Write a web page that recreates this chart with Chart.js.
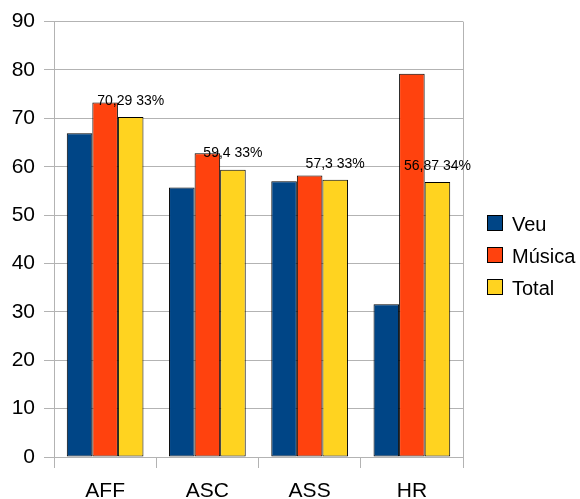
<!DOCTYPE html>
<html>
<head>
<meta charset="utf-8">
<script src="https://cdn.jsdelivr.net/npm/chart.js@4/dist/chart.umd.min.js"></script>
<style>
  html, body { margin: 0; padding: 0; background: #fff; }
  #wrap { width: 580px; height: 499px; position: relative; }
</style>
</head>
<body>
<div id="wrap"><canvas id="c"></canvas></div>
<script>
// Categories and series
const categories = ['AFF', 'ASC', 'ASS', 'HR'];
const veu = [66.9, 55.7, 57.0, 31.6];
const musica = [73.3, 62.8, 58.2, 79.2];
const total = [70.29, 59.4, 57.3, 56.87];
const totalShare = [33, 33, 33, 34];
const yTicks = [0, 10, 20, 30, 40, 50, 60, 70, 80, 90];

const FONT = '"Liberation Sans", Arial, sans-serif';
const GRID = '#b3b3b3';

// Value labels above the Total bars: "70,29 33%"
const totalLabels = {
  id: 'totalLabels',
  afterDatasetsDraw(chart) {
    const ctx = chart.ctx;
    const meta = chart.getDatasetMeta(2);
    ctx.save();
    ctx.font = '14px ' + FONT;
    ctx.fillStyle = '#000';
    ctx.textAlign = 'center';
    ctx.textBaseline = 'middle';
    meta.data.forEach((bar, i) => {
      const txt = String(total[i]).replace('.', ',') + ' ' + totalShare[i] + '%';
      ctx.fillText(txt, bar.x, bar.y - 16);
    });
    ctx.restore();
  }
};

// Legend on the right, one row per dataset
const sideLegend = {
  id: 'sideLegend',
  afterDraw(chart) {
    const ctx = chart.ctx;
    const x = chart.chartArea.right + 24;
    const y0 = 215;
    ctx.save();
    ctx.font = '20px ' + FONT;
    ctx.textBaseline = 'middle';
    ctx.textAlign = 'left';
    chart.data.datasets.forEach((ds, i) => {
      const y = y0 + i * 32;
      ctx.fillStyle = ds.backgroundColor;
      ctx.fillRect(x, y, 16, 16);
      ctx.strokeStyle = '#000';
      ctx.lineWidth = 1;
      ctx.strokeRect(x + 0.5, y + 0.5, 15, 15);
      ctx.fillStyle = '#000';
      ctx.fillText(ds.label, x + 25, y + 10);
    });
    ctx.restore();
  }
};

new Chart(document.getElementById('c'), {
  type: 'bar',
  data: {
    labels: categories,
    datasets: [
      { label: 'Veu', data: veu, backgroundColor: '#004586' },
      { label: 'Música', data: musica, backgroundColor: '#ff420e' },
      { label: 'Total', data: total, backgroundColor: '#ffd320' }
    ]
  },
  options: {
    responsive: true,
    maintainAspectRatio: false,
    animation: false,
    layout: { padding: { top: 21, right: 117, left: 0, bottom: 0 } },
    datasets: {
      bar: {
        borderColor: '#000',
        borderWidth: 1,
        borderSkipped: false,
        categoryPercentage: 0.75,
        barPercentage: 1
      }
    },
    plugins: {
      legend: { display: false },
      tooltip: { enabled: false }
    },
    scales: {
      x: {
        offset: true,
        grid: {
          offset: true,
          drawOnChartArea: true,
          // only the closing line on the right edge runs up through the plot
          color: (c) => (c.type === 'scale' ? GRID : 'rgba(0,0,0,0)'),
          tickColor: GRID,
          tickLength: 11
        },
        border: { display: false },
        ticks: {
          color: '#000',
          font: { family: FONT, size: 21 },
          padding: 11
        },
        afterFit(s) { s.height = 42; }
      },
      y: {
        min: 0,
        max: 90,
        afterBuildTicks(s) { s.ticks = yTicks.map(v => ({ value: v })); },
        grid: {
          color: GRID,
          tickColor: GRID,
          tickLength: 10
        },
        border: { display: true, color: GRID },
        ticks: {
          color: '#000',
          font: { family: FONT, size: 21 },
          padding: 9
        },
        afterFit(s) { s.width = 54; }
      }
    }
  },
  plugins: [totalLabels, sideLegend]
});
</script>
</body>
</html>
